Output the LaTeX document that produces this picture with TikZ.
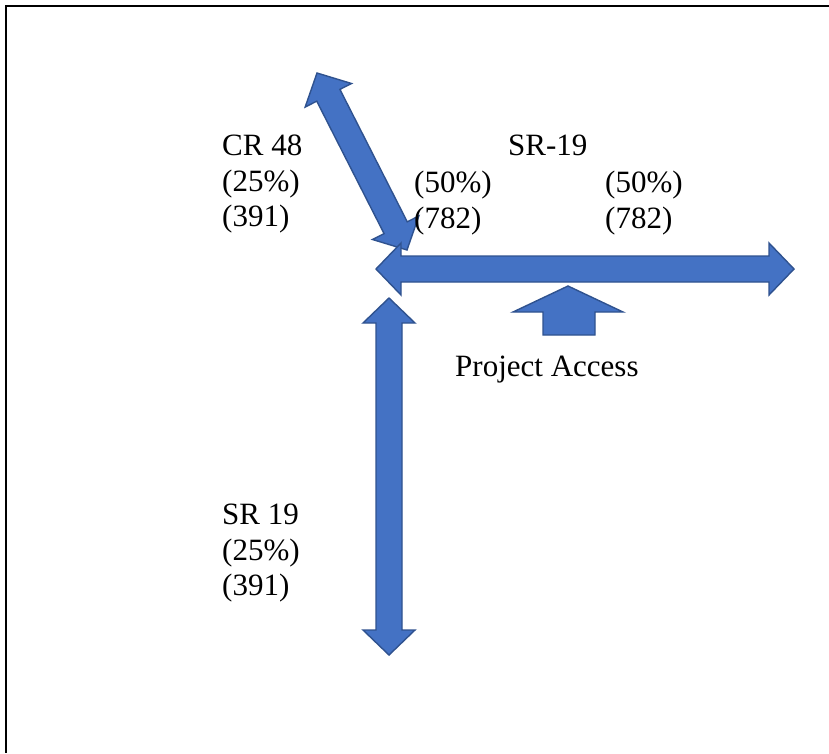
\documentclass[tikz,border=0pt]{standalone}
\usepackage{fontspec}
\setmainfont{Liberation Serif}
\usepackage{tikz}
\usetikzlibrary{calc}

\definecolor{roadblue}{HTML}{4472C4}
\definecolor{roadedge}{HTML}{2F528F}

% block arrow with a head at both ends
\newcommand{\roadarrow}[2]{%
  \coordinate (#1-h) at ($(#1)!25pt!(#2)$);
  \coordinate (#2-h) at ($(#2)!25pt!(#1)$);
  \draw[road] (#1)
    -- ($(#1-h)!26pt!90:(#2)$) -- ($(#1-h)!13pt!90:(#2)$)
    -- ($(#2-h)!13pt!-90:(#1)$) -- ($(#2-h)!26pt!-90:(#1)$)
    -- (#2)
    -- ($(#2-h)!26pt!90:(#1)$) -- ($(#2-h)!13pt!90:(#1)$)
    -- ($(#1-h)!13pt!-90:(#2)$) -- ($(#1-h)!26pt!-90:(#2)$)
    -- cycle;}

\begin{document}
\begin{tikzpicture}[
    x=1pt, y=-1pt,
    road/.style={fill=roadblue, draw=roadedge, line width=1.4pt, line join=miter},
    lbl/.style={anchor=north west, inner sep=0pt, align=left,
                font=\fontsize{31}{35.5}\selectfont},
    frame/.style={line width=2pt}
]
  \useasboundingbox (0,0) rectangle (829,753);
  \draw[frame] (829,6) -- (6,6) -- (6,753);

  % road ends
  \coordinate (cr-n) at (317,73);
  \coordinate (cr-s) at (407,250);
  \coordinate (sr-w) at (376,269);
  \coordinate (sr-e) at (794,269);
  \coordinate (srs-n) at (389,298);
  \coordinate (srs-s) at (389,655);

  \roadarrow{cr-n}{cr-s}
  \roadarrow{sr-w}{sr-e}
  \roadarrow{srs-n}{srs-s}

  % project access
  \draw[road] (568,286) -- (623,312) -- (595,312) -- (595,335)
    -- (543,335) -- (543,312) -- (513,312) -- cycle;

  \node[lbl] (cr48) at (222,135) {CR 48\\(25\%)\\(391)};
  \node[lbl] (sr19n) at (508,135) {SR-19};
  \node[lbl] (sr19w) at (414,171) {(50\%)\\(782)};
  \node[lbl] (sr19e) at (605,171) {(50\%)\\(782)};
  \node[lbl] (access) at (455,356) {Project Access};
  \node[lbl] (sr19s) at (222,504) {SR 19\\(25\%)\\(391)};
\end{tikzpicture}
\end{document}
